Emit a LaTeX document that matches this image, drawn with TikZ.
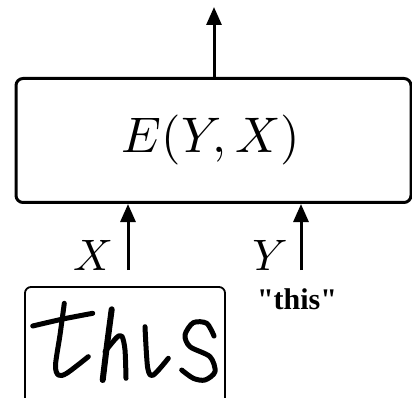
\documentclass[tikz,border=0pt]{standalone}
\usepackage{fontspec}
\newfontfamily\lserif{Liberation Serif}
\usetikzlibrary{arrows.meta}
\tikzset{
  arr/.style={line width=3pt, -{Triangle[length=18pt,width=15pt]}},
  mainbox/.style={draw, line width=3pt, rounded corners=7pt, minimum width=395pt, minimum height=124pt, inner sep=0pt},
  imgbox/.style={draw, line width=1.8pt, rounded corners=6pt, minimum width=200pt, minimum height=120pt, inner sep=0pt},
  ink/.style={line width=5pt, line cap=round, line join=round},
  lab/.style={inner sep=0pt, scale=4.4}
}
\begin{document}
\begin{tikzpicture}[x=1pt,y=-1pt]
\useasboundingbox (0,0) rectangle (412,398);
\begin{scope}
\clip (0,0) rectangle (412,398);
\node[mainbox] (E) at (213.5,140.5) {};
\node[inner sep=0pt, scale=5] (Etxt) at (211,140) {$E(Y,X)$};
\coordinate (out) at (214,7);
\draw[arr] (E.north -| out) -- (out);
\coordinate (xin) at (128,270);
\coordinate (yin) at (301,270);
\draw[arr] (xin) -- (xin |- E.south);
\draw[arr] (yin) -- (yin |- E.south);
\node[lab] (xl) at (93,255) {$X$};
\node[lab] (yl) at (270,255) {$Y$};
\node[imgbox] (img) at (125,347) {};
\node[inner sep=0pt, anchor=base, font=\lserif\bfseries\fontsize{30}{34}\selectfont] (txt) at (297,309) {"this"};
% handwriting
\draw[ink] plot[smooth] coordinates {(32.7,326) (63,319) (92.7,313.3)};
\draw[ink] plot[smooth] coordinates {(64.3,303.3) (60,335) (55.5,365) (58.3,375) (66.7,373.3) (88.3,356.7)};
\draw[ink, line width=6pt] plot[smooth] coordinates {(111.7,309.3) (107,345) (102.7,380)};
\draw[ink] plot[smooth] coordinates {(105,351.7) (116.7,337.5) (122,336.5) (125,350) (126,378.3)};
\draw[ink] plot[smooth] coordinates {(145,326.7) (147.7,368) (153.3,375) (168.3,358.3)};
\draw[ink] plot[smooth] coordinates {(214,336) (206.7,323.3) (193.3,322.7) (185,335) (190,346.7) (210,356.7) (215,371.7) (205,380) (193.3,378.3) (181.7,370)};
\end{scope}
\end{tikzpicture}
\end{document}
